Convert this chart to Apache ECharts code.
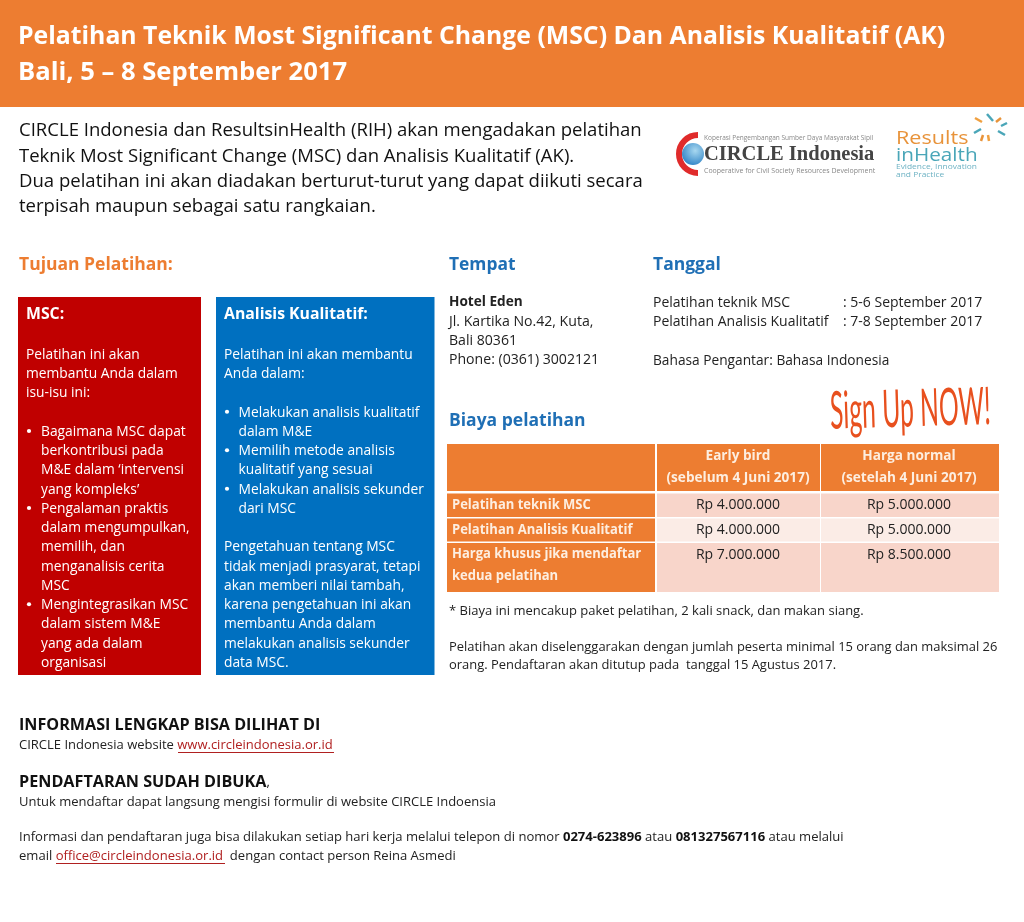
<!DOCTYPE html>
<html>
<head>
<meta charset="utf-8">
<style>html,body{margin:0;padding:0;background:#fff}#main{width:1024px;height:922px}</style>
<script src="https://cdn.jsdelivr.net/npm/echarts@6/dist/echarts.min.js"></script>
</head>
<body>
<div id="main"></div>
<script>
const titleLines = ['Pelatihan Teknik Most Significant Change (MSC) Dan Analisis Kualitatif (AK)', 'Bali, 5 – 8 September 2017']
const introLines = [
  'CIRCLE Indonesia dan ResultsinHealth (RIH) akan mengadakan pelatihan',
  'Teknik Most Significant Change (MSC) dan Analisis Kualitatif (AK).',
  'Dua pelatihan ini akan diadakan berturut-turut yang dapat diikuti secara',
  'terpisah maupun sebagai satu rangkaian.'
]
// [text, bullet?] null = blank line
const mscLines = [
  ['Pelatihan ini akan', 0], ['membantu Anda dalam', 0], ['isu-isu ini:', 0], null,
  ['Bagaimana MSC dapat', 1], ['berkontribusi pada', 2], ['M&E dalam ‘intervensi', 2], ['yang kompleks’', 2],
  ['Pengalaman praktis', 1], ['dalam mengumpulkan,', 2], ['memilih, dan', 2], ['menganalisis cerita', 2], ['MSC', 2],
  ['Mengintegrasikan MSC', 1], ['dalam sistem M&E', 2], ['yang ada dalam', 2], ['organisasi', 2]
]
const akLines = [
  ['Pelatihan ini akan membantu', 0], ['Anda dalam:', 0], null,
  ['Melakukan analisis kualitatif', 1], ['dalam M&E', 2],
  ['Memilih metode analisis', 1], ['kualitatif yang sesuai', 2],
  ['Melakukan analisis sekunder', 1], ['dari MSC', 2], null,
  ['Pengetahuan tentang MSC', 0], ['tidak menjadi prasyarat, tetapi', 0], ['akan memberi nilai tambah,', 0],
  ['karena pengetahuan ini akan', 0], ['membantu Anda dalam', 0], ['melakukan analisis sekunder', 0], ['data MSC.', 0]
]
const venueLines = ['Jl. Kartika No.42, Kuta,', 'Bali 80361', 'Phone: (0361) 3002121']
const dateNames = ['Pelatihan teknik MSC', 'Pelatihan Analisis Kualitatif']
const dateValues = [': 5-6 September 2017', ': 7-8 September 2017']
const priceHeaders = [['Early bird', '(sebelum 4 Juni 2017)'], ['Harga normal', '(setelah 4 Juni 2017)']]
const priceRows = [['Pelatihan teknik MSC'], ['Pelatihan Analisis Kualitatif'], ['Harga khusus jika mendaftar', 'kedua pelatihan']]
const earlyPrices = ['Rp 4.000.000', 'Rp 4.000.000', 'Rp 7.000.000']
const normalPrices = ['Rp 5.000.000', 'Rp 5.000.000', 'Rp 8.500.000']
const noteLines = [
  '* Biaya ini mencakup paket pelatihan, 2 kali snack, dan makan siang.',
  'Pelatihan akan diselenggarakan dengan jumlah peserta minimal 15 orang dan maksimal 26',
  'orang. Pendaftaran akan ditutup pada  tanggal 15 Agustus 2017.'
]

const FONT = '"Open Sans"'
const ORANGE = '#ed7d31'
const BLUE = '#1f6fb5'
const TEXT = '#222'
const els = []

function rect(x, y, w, h, fill) {
  els.push({ type: 'rect', shape: { x, y, width: w, height: h }, style: { fill } })
}

function label(x, y, text, size, fill, opts) {
  opts = opts || {}
  els.push({
    type: 'text', x, y: y + 1,
    scaleX: opts.sx || 1,
    rotation: opts.rotation || 0,
    style: {
      text, fill,
      font: (opts.weight || 'normal') + ' ' + size + 'px ' + (opts.family || FONT),
      textAlign: opts.align || 'left',
      textVerticalAlign: 'middle',
      rich: opts.rich
    }
  })
}

function underline(x1, x2, y, stroke) {
  els.push({ type: 'line', shape: { x1, y1: y, x2, y2: y }, style: { stroke, lineWidth: 1 } })
}

function panel(x, y, w, h, fill, heading, lines, left, bulletLeft) {
  rect(x, y, w, h, fill)
  label(left, 313, heading, 15.8, '#fff', { weight: 'bold' })
  lines.forEach((l, i) => {
    if (!l) return
    const ly = 354 + i * 19.25
    if (l[1] === 0) label(left, ly, l[0], 13.8, '#fff')
    else label(bulletLeft, ly, l[0], 13.8, '#fff')
    if (l[1] === 1) els.push({ type: 'circle', shape: { cx: left + 3, cy: ly, r: 2.1 }, style: { fill: '#fff' } })
  })
}

// header
rect(0, 0, 1024, 107, ORANGE)
label(18, 35.5, titleLines[0], 24.8, '#fff', { weight: 'bold' })
label(18, 71.5, titleLines[1], 25.6, '#fff', { weight: 'bold' })

// intro
introLines.forEach((t, i) => label(19, 130 + i * 25.4, t, 18.55, '#111'))

// circle logo
els.push({ type: 'arc', shape: { cx: 698, cy: 154, r: 19, startAngle: Math.PI * 0.5, endAngle: Math.PI * 1.5 }, style: { stroke: '#e02b2b', fill: null, lineWidth: 6, lineCap: 'butt' } })
els.push({
  type: 'circle', shape: { cx: 693, cy: 154, r: 11 },
  style: { fill: new echarts.graphic.RadialGradient(0.6, 0.35, 0.8, [{ offset: 0, color: '#a8d8f0' }, { offset: 1, color: '#1f78c0' }]) }
})
label(704, 137, 'Koperasi Pengembangan Sumber Daya Masyarakat Sipil', 7, '#888', { sx: 0.93 })
label(704, 154, 'CIRCLE Indonesia', 20.5, '#444', { weight: 'bold', family: '"Liberation Serif"' })
label(704, 170, 'Cooperative for Civil Society Resources Development', 7.5, '#888', { sx: 0.93 })

// resultsinhealth logo
label(896, 138, 'Results', 18, '#e8933a', { sx: 1.2 })
label(896, 155, 'inHealth', 18, '#4aa6b8', { sx: 1.15 })
label(896, 165.5, 'Evidence, Innovation', 7, '#6fb3c4', { sx: 1.2 })
label(896, 173.5, 'and Practice', 7, '#6fb3c4', { sx: 1.2 })
const rays = [[975, 118, 982, 122, '#f0a040'], [987, 114, 993, 121, '#4aa6b8'], [996, 122, 1001, 118, '#e8933a'], [1007, 123, 1001, 126, '#4aa6b8'], [1005, 135, 998, 131, '#4aa6b8'], [989, 141, 988, 135, '#f0a040'], [981, 141, 983, 135, '#e8933a'], [974, 133, 981, 129, '#4aa6b8']]
rays.forEach(r => els.push({ type: 'line', shape: { x1: r[0], y1: r[1], x2: r[2], y2: r[3] }, style: { stroke: r[4], lineWidth: 2.5 } }))

// goals
label(19, 264, 'Tujuan Pelatihan:', 17.5, ORANGE, { weight: 'bold' })
panel(18, 297, 183, 378, '#c00000', 'MSC:', mscLines, 26, 41)
panel(216, 297, 218.5, 378, '#0070c0', 'Analisis Kualitatif:', akLines, 224, 238.5)

// venue, dates
label(449, 264, 'Tempat', 17.4, BLUE, { weight: 'bold' })
label(449, 301, 'Hotel Eden', 13.6, TEXT, { weight: 'bold' })
venueLines.forEach((t, i) => label(449, 321 + i * 19.2, t, 14.1, TEXT))
label(653, 264, 'Tanggal', 17.5, BLUE, { weight: 'bold' })
dateNames.forEach((t, i) => {
  label(653, 302 + i * 19.2, t, 14, TEXT)
  label(843, 302 + i * 19.2, dateValues[i], 14, TEXT)
})
label(653, 360, 'Bahasa Pengantar: Bahasa Indonesia', 13.72, TEXT)

// price table
label(449, 420, 'Biaya pelatihan', 17.5, BLUE, { weight: 'bold' })
label(830, 411, 'Sign Up NOW!', 52, '#e8501e', { family: 'Lato', sx: 0.475, rotation: 0.03 })
const colX = [447, 657, 821]
const colW = [208, 163, 178]
colX.forEach((x, i) => rect(x, 444, colW[i], 47, ORANGE))
const rowY = [493.5, 518.5, 543]
const rowH = [23.5, 23, 49]
const rowFill = ['#f8d5ca', '#fbece6', '#f8d5ca']
priceRows.forEach((r, i) => {
  rect(colX[0], rowY[i], colW[0], rowH[i], ORANGE)
  rect(colX[1], rowY[i], colW[1], rowH[i], rowFill[i])
  rect(colX[2], rowY[i], colW[2], rowH[i], rowFill[i])
  r.forEach((t, j) => label(452, rowY[i] + 10.5 + j * 22, t, 14, '#fdeee0', { weight: 'bold', sx: 0.93 }))
  label(738, rowY[i] + 11, earlyPrices[i], 14, TEXT, { align: 'center' })
  label(909, rowY[i] + 11, normalPrices[i], 14, TEXT, { align: 'center' })
})
priceHeaders.forEach((h, i) => {
  const cx = i ? 909 : 738
  h.forEach((t, j) => label(cx, 455 + j * 22, t, 13.6, '#fdeee0', { weight: 'bold', align: 'center' }))
})

label(449, 610, noteLines[0], 13, TEXT)
label(449, 646, noteLines[1], 12.95, TEXT)
label(449, 664, noteLines[2], 12.95, TEXT)

// footer
label(19, 724, 'INFORMASI LENGKAP BISA DILIHAT DI', 16.15, '#111', { weight: 'bold' })
label(19, 744, '{n|CIRCLE Indonesia website }{l|www.circleindonesia.or.id}', 13, TEXT, {
  rich: { n: { fill: TEXT, font: '13px ' + FONT }, l: { fill: '#b02020', font: '13px ' + FONT } }
})
label(19, 781, '{b|PENDAFTARAN SUDAH DIBUKA}{n|,}', 16.2, '#111', {
  rich: { b: { fill: '#111', font: 'bold 16.2px ' + FONT }, n: { fill: '#111', font: '13px ' + FONT } }
})
label(19, 801, 'Untuk mendaftar dapat langsung mengisi formulir di website CIRCLE Indoensia', 13, TEXT)
const footRich = { n: { fill: TEXT, font: '13.05px ' + FONT }, b: { fill: '#111', font: 'bold 13.05px ' + FONT }, l: { fill: '#b02020', font: '13.05px ' + FONT } }
label(19, 836, '{n|Informasi dan pendaftaran juga bisa dilakukan setiap hari kerja melalui telepon di nomor }{b|0274-623896}{n| atau }{b|081327567116}{n| atau melalui}', 13, TEXT, { rich: footRich })
label(19, 855, '{n|email }{l|office@circleindonesia.or.id}{n|  dengan contact person Reina Asmedi}', 13, TEXT, { rich: footRich })
underline(178, 334, 752.5, '#b02020')
underline(56, 225, 863.5, '#b02020')

const chart = echarts.init(document.getElementById('main'))
chart.setOption({ backgroundColor: '#fff', animation: false, graphic: { elements: els } })
</script>
</body>
</html>
